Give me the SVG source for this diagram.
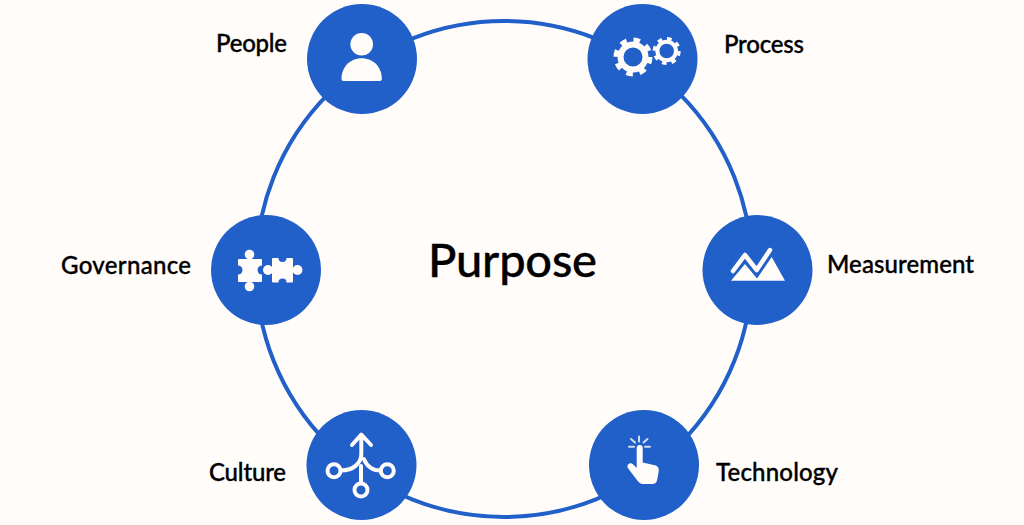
<svg xmlns="http://www.w3.org/2000/svg" width="1024" height="525" viewBox="0 0 1024 525">
<style>
.n{fill:#215fc9}
.w{fill:#fffcfa}
.s{fill:none;stroke:#fffcfa;stroke-linecap:round;stroke-linejoin:round}
.g{fill:none;stroke:#fffcfa;stroke-linecap:butt}
text{font-family:"Lato","Liberation Sans",sans-serif;font-weight:500;fill:#000;stroke:#000;stroke-width:.35}
.t{font-size:24px}
</style>
<rect width="1024" height="525" fill="#fffcfa"/>
<g id="connectors"><circle cx="504" cy="269" r="248" fill="none" stroke="#215fc9" stroke-width="4"/></g>
<g id="people"><circle class="n" cx="362" cy="59" r="55"/><circle class="w" cx="361.700" cy="44.300" r="11.300"/><path class="w" d="M343.500 81c-1.300 0-2-.8-2-2C341.500 67 350 58.300 361.700 58.300S381.800 67 381.800 79c0 1.200-.7 2-2 2z"/><text class="t" x="216" y="52" textLength="71">People</text></g>
<g id="process"><circle class="n" cx="642.500" cy="59" r="55"/>
<circle cx="633" cy="57" r="12.500" class="g" stroke-width="6"/>
<circle cx="633" cy="57" r="17" class="g" stroke-width="5" stroke-dasharray="6.500 6.850"/>
<circle cx="666.700" cy="51" r="9.300" class="g" stroke-width="4"/>
<circle cx="666.700" cy="51" r="12" class="g" stroke-width="4" stroke-dasharray="4.500 4.920"/>
<text class="t" x="724" y="53" textLength="80">Process</text></g>
<g id="governance"><circle class="n" cx="266" cy="270" r="55"/>
<rect class="w" x="238" y="259" width="24" height="23" rx="1"/>
<circle class="w" cx="249.500" cy="254.500" r="4.800"/><circle class="w" cx="249.500" cy="286.500" r="4.800"/>
<circle class="n" cx="238" cy="270" r="4.500"/><circle class="n" cx="262" cy="270" r="4.500"/>
<rect class="w" x="272" y="258" width="21" height="24.500" rx="1"/>
<circle class="w" cx="268" cy="270" r="5"/><circle class="w" cx="297.500" cy="270" r="5"/>
<circle class="n" cx="282.500" cy="258" r="4"/><circle class="n" cx="282.500" cy="282.500" r="4"/>
<text class="t" x="61" y="274" textLength="130">Governance</text></g>
<g id="measurement"><circle class="n" cx="757.500" cy="270" r="55"/>
<path class="w" d="M731 280.800L745 264l12 14.500L771.700 257 785 280.800z"/>
<path class="s" stroke-width="4.500" d="M733 271L745 255l11.700 15L770 250"/>
<text class="t" x="827" y="273" textLength="147">Measurement</text></g>
<g id="culture"><circle class="n" cx="361.500" cy="465" r="55"/>
<g class="s" stroke-width="4"><path d="M352 445l9.300-10.500L371 445M361.300 436v18c0 9-8 16.500-20 16.500"/><path d="M363.800 459c3 7 9 11.500 16.500 11.500M361 466v17"/><circle cx="334" cy="470.700" r="6.500"/><circle cx="387.300" cy="470.700" r="6.500"/><circle cx="361" cy="490" r="6.500"/></g>
<text class="t" x="209" y="481" textLength="77">Culture</text></g>
<g id="technology"><circle class="n" cx="644" cy="465" r="55"/>
<path class="w" d="M636.700 448a3 3 0 0 1 6 0v14.500l11 2.500c4 .8 5.500 2.500 5 6.500l-1.500 8c-.5 3-2 4.500-5 4.500h-9c-2.500 0-4-1-5.500-3l-9.500-12.500c-2.500-3.500 2-7 5-4l3.500 3.500z"/>
<path fill="none" stroke="#fffcfa" stroke-opacity=".8" stroke-width="2" stroke-linecap="round" d="M639 436.500v5M631 439l4 3.500M647.500 439l-4 3.500M629 446.700h5M645 446.700h5"/>
<text class="t" x="716" y="481" textLength="122">Technology</text></g>
<text id="center" x="428" y="277" font-size="47" textLength="169">Purpose</text>
</svg>
